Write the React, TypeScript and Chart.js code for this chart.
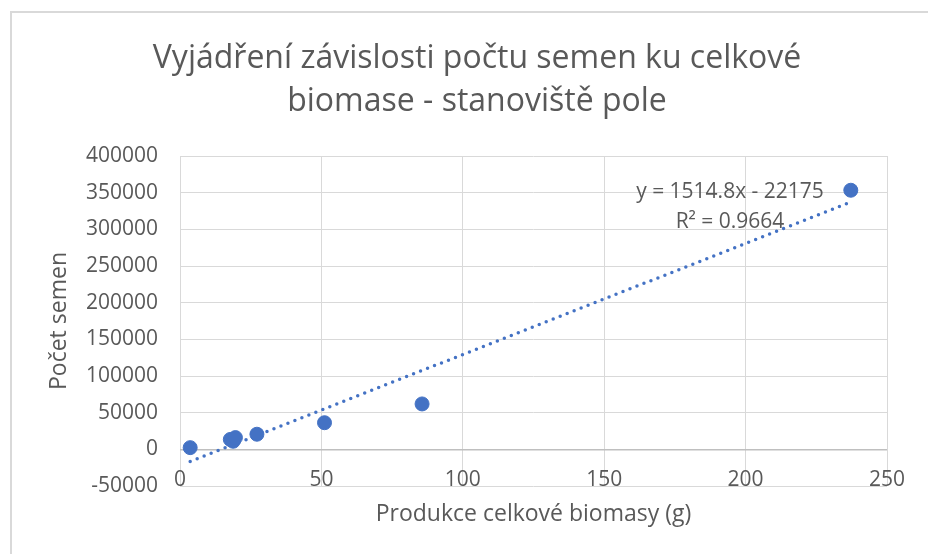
import React, { useEffect, useRef } from "react";
import { Chart, registerables } from "chart.js";

Chart.register(...registerables);

const chartTitle = ["Vyjádření závislosti počtu semen ku celkové", "biomase - stanoviště pole"];
const xTitle = "Produkce celkové biomasy (g)";
const yTitle = "Počet semen";
const equationLines = ["y = 1514.8x - 22175", "R² = 0.9664"];

const biomass = [3.6, 17.8, 18.8, 19.6, 27.2, 51.1, 85.6, 237.2];
const seeds = [2300, 13500, 11000, 16000, 20600, 36300, 61900, 353300];
const trendX = [3.6, 237.2];
const trendY = [-16700, 337100];

const FONT = "'Open Sans', 'Noto Sans', sans-serif";
const TEXT = "#595959";
const BLUE = "#4472C4";

export default function App() {
  const ref = useRef<HTMLCanvasElement | null>(null);

  useEffect(() => {
    if (!ref.current) return;
    const textPlugin = {
      id: "texts",
      afterDraw(chart: any) {
        const ctx = chart.ctx;
        const area = chart.chartArea;
        const xs = chart.scales.x;
        ctx.save();
        ctx.fillStyle = TEXT;
        ctx.textAlign = "center";
        ctx.textBaseline = "alphabetic";
        ctx.font = `32px ${FONT}`;
        ctx.fillText(chartTitle[0], 477, 68);
        ctx.fillText(chartTitle[1], 477, 111);
        // x tick labels (Excel draws them overlapping the bottom gridline)
        ctx.font = `21px ${FONT}`;
        ctx.textBaseline = "middle";
        xs.ticks.forEach((t: any) => {
          ctx.fillText(String(t.value), xs.getPixelForValue(t.value), area.bottom - 6);
        });
        ctx.font = `21px ${FONT}`;
        const cx = area.right - 157;
        ctx.fillText(equationLines[0], cx, area.top + 36);
        ctx.fillText(equationLines[1], cx, area.top + 66);
        ctx.restore();
      },
    };

    const chart = new Chart(ref.current, {
      type: "scatter",
      data: {
        datasets: [
          {
            type: "line",
            label: "trend",
            data: trendX.map((x, i) => ({ x, y: trendY[i] })),
            borderColor: BLUE,
            borderWidth: 3.5,
            borderDash: [0, 7.5],
            borderCapStyle: "round",
            pointRadius: 0,
            fill: false,
            order: 2,
          } as any,
          {
            label: "data",
            data: biomass.map((x, i) => ({ x, y: seeds[i] })),
            backgroundColor: BLUE,
            borderColor: BLUE,
            borderWidth: 1,
            pointRadius: 7,
            order: 1,
          },
        ],
      },
      options: {
        animation: false,
        responsive: false,
        layout: { padding: { top: 156, right: 41, bottom: 0, left: 0 } },
        plugins: {
          legend: { display: false },
          tooltip: { enabled: false },
          title: { display: false },
        },
        scales: {
          x: {
            type: "linear",
            min: 0,
            max: 250,
            ticks: { stepSize: 50, display: false },
            grid: { color: "#d9d9d9", drawTicks: false, lineWidth: 1 },
            border: { display: false },
            title: {
              display: true,
              text: xTitle,
              color: TEXT,
              font: { family: FONT, size: 23 },
              padding: { top: 0, bottom: 26 },
            },
            afterFit(scale: any) {
              scale.height = 68;
            },
          },
          y: {
            type: "linear",
            min: -50000,
            max: 400000,
            ticks: {
              stepSize: 50000,
              color: TEXT,
              font: { family: FONT, size: 21 },
              padding: 22,
              callback: (v: any) => String(v),
            },
            grid: {
              color: (c: any) => (c.tick && c.tick.value === 0 ? "#bfbfbf" : "#d9d9d9"),
              lineWidth: (c: any) => (c.tick && c.tick.value === 0 ? 1.5 : 1),
              drawTicks: false,
            },
            border: { display: false },
            title: {
              display: true,
              text: yTitle,
              color: TEXT,
              font: { family: FONT, size: 23 },
              padding: { top: 46, bottom: 0 },
            },
            afterFit(scale: any) {
              scale.width = 180;
            },
          },
        },
      },
      plugins: [textPlugin],
    });
    return () => chart.destroy();
  }, []);

  return (
    <div style={{ position: "fixed", left: 0, top: 0, width: 928, height: 554, background: "#fff", overflow: "hidden" }}>
      <div
        style={{
          position: "absolute",
          left: 10,
          top: 11,
          width: 1000,
          height: 1000,
          border: "2px solid #d9d9d9",
          boxSizing: "border-box",
        }}
      />
      <canvas ref={ref} width={928} height={554} style={{ position: "absolute", left: 0, top: 0 }} />
    </div>
  );
}
